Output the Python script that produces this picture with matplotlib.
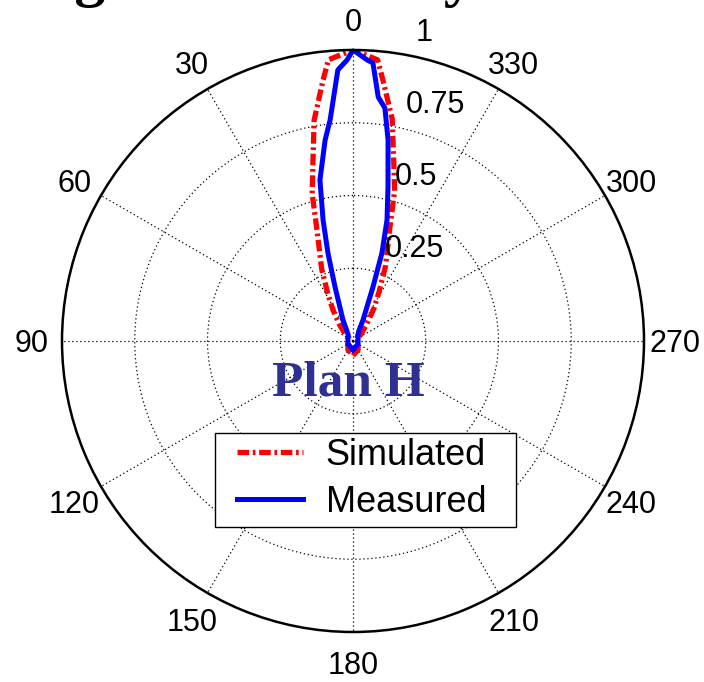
import matplotlib.pyplot as plt
import matplotlib.patches as mpatches
import matplotlib.lines as mlines
import numpy as np

# simulated pattern (deg, normalised)
sim_deg = [-180, -150, -120, -90, -60, -50, -40, -33, -28, -23.5, -18, -15.5, -12.5, -10, -6.6, -5,
           0, 5, 6.6, 10, 12.5, 15.5, 18, 23.5, 28, 33, 40, 50, 60, 90, 120, 150, 180]
sim_r = [0.05, 0.035, 0.02, 0.015, 0.02, 0.035, 0.07, 0.13, 0.19, 0.28, 0.41, 0.535, 0.645, 0.775, 0.90, 0.97,
         1.0, 0.97, 0.90, 0.77, 0.635, 0.525, 0.40, 0.27, 0.185, 0.125, 0.07, 0.035, 0.02, 0.015, 0.02, 0.035, 0.05]

# measured pattern
meas_deg = [-180, -120, -60, -40, -30, -25.5, -20.3, -18.2, -15.7, -12.8, -9.9, -7.8, -5.9, -4.1, -2.9,
            0, 1.2, 3.2, 5.9, 7.9, 11.6, 13.9, 15.9, 18.4, 25.5, 30, 40, 60, 120, 180]
meas_r = [0.03, 0.02, 0.02, 0.025, 0.04, 0.08, 0.198, 0.318, 0.432, 0.543, 0.701, 0.808, 0.843, 0.958, 0.967,
          1.0, 0.966, 0.933, 0.764, 0.697, 0.565, 0.428, 0.314, 0.196, 0.08, 0.045, 0.025, 0.02, 0.02, 0.03]

ring_vals = [0.25, 0.5, 0.75, 1]
ring_labels = ['0.25', '0.5', '0.75', '1']
angle_ticks = list(range(0, 360, 30))

plt.rcParams['font.family'] = ['Liberation Sans', 'DejaVu Sans']

W, H = 704, 682
fig = plt.figure(figsize=(W / 100, H / 100), dpi=100)
cx, cy, R = 353, 341, 291
ax = fig.add_axes([(cx - R) / W, (H - cy - R) / H, 2 * R / W, 2 * R / H], projection='polar')
ax.set_theta_zero_location('N')
ax.set_theta_direction(1)
ax.set_ylim(0, 1)

ax.set_xticks(np.deg2rad(angle_ticks))
ax.set_xticklabels([])
ax.set_yticks(ring_vals[:-1])
ax.set_yticklabels([])
ax.grid(True, color='k', linestyle=(0, (1, 2.2)), linewidth=0.9)
ax.spines['polar'].set_linewidth(1.8)
ax.tick_params(length=0)

sim_style = dict(color='red', lw=3.8, linestyle=(0, (2.2, 0.7, 0.5, 0.7)))
meas_style = dict(color='blue', lw=3.6)
ax.plot(np.deg2rad(sim_deg), sim_r, **sim_style)
ax.plot(np.deg2rad(meas_deg), meas_r, **meas_style)

for a in angle_ticks:
    ax.text(np.deg2rad(a), 1.105, str(a), ha='center', va='center_baseline', fontsize=22)

for v, lbl in zip(ring_vals, ring_labels):
    ax.annotate(lbl, xy=(np.deg2rad(-8), v), xytext=(15.8, 8.6), textcoords='offset points',
                ha='left', va='baseline', fontsize=22, annotation_clip=False)

# legend box drawn separately so the padding matches
box = mpatches.Rectangle((215 / W, 1 - 527 / H), 301 / W, 94 / H, transform=fig.transFigure,
                         facecolor='white', edgecolor='k', lw=1, zorder=3)
fig.patches.append(box)
handles = [mlines.Line2D([], [], **sim_style), mlines.Line2D([], [], **meas_style)]
fig.legend(handles, ['Simulated', 'Measured'], loc='center',
           bbox_to_anchor=(361.5 / W, 1 - 479 / H), fontsize=26, frameon=False,
           handlelength=1.83, handletextpad=0.64, labelspacing=0.33, borderpad=0)

fig.text(348.5 / W, 1 - 396 / H, 'Plan H', fontfamily='Liberation Serif', fontweight='bold',
         fontsize=37, color='#2e3192', ha='center', va='baseline')

# title, mostly cut off by the top edge
fig.text(-17.5 / W, 1 + 5 / H, 'Diagramme de rayonnement', fontfamily='Liberation Serif',
         fontweight='bold', fontsize=44.4, ha='left', va='baseline')

fig.savefig('out.png', dpi=100)
